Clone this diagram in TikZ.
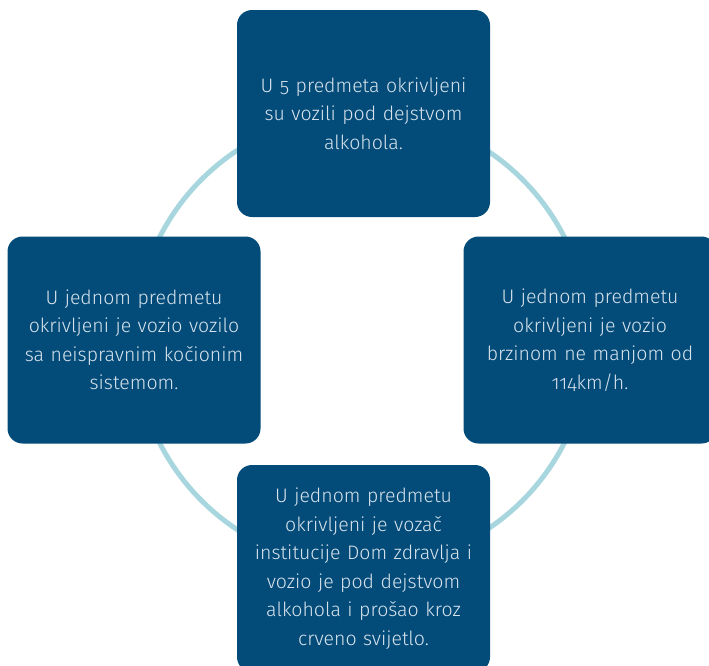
\documentclass[tikz,border=0pt]{standalone}
\usepackage{fontspec}
\setmainfont{Fira Sans}[UprightFont=* Light, Numbers=OldStyle]
\definecolor{boxblue}{HTML}{034C7A}
\definecolor{ringblue}{HTML}{A7D6DF}
\definecolor{txtcol}{HTML}{D8E3EC}
\begin{document}
\begin{tikzpicture}[x=1pt,y=-1pt,
  card/.style={rectangle, rounded corners=15pt, fill=boxblue, draw=none,
    minimum width=253pt, minimum height=207pt, inner sep=0pt,
    text=txtcol, align=center, text width=235pt,
    font=\fontsize{19.5}{28.5}\selectfont}]
\useasboundingbox (0,0) rectangle (709,665);
\begin{scope}
\clip (0,0) rectangle (709,665);
\draw[ringblue, line width=5pt] (362,340) circle (227);
\node[card] (top) at (363.5,113.5) {U 5 predmeta okrivljeni\\su vozili pod dejstvom\\alkohola.};
\node[card] (left) at (134,340) {U jednom predmetu\\okrivljeni je vozio vozilo\\sa neispravnim kočionim\\sistemom.};
\node[card] (right) at (590,340) {U jednom predmetu\\okrivljeni je vozio\\brzinom ne manjom od\\114km/h.};
\node[card] (bottom) at (363.5,568.5) {U jednom predmetu\\okrivljeni je vozač\\institucije Dom zdravlja i\\vozio je pod dejstvom\\alkohola i prošao kroz\\crveno svijetlo.};
\end{scope}
\end{tikzpicture}
\end{document}
